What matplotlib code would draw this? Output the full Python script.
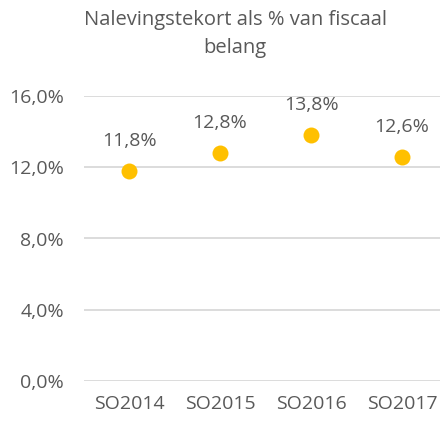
import matplotlib
matplotlib.use("Agg")
import matplotlib.pyplot as plt

categories = ["SO2014", "SO2015", "SO2016", "SO2017"]
values = [11.8, 12.8, 13.8, 12.6]
yticks = [0, 4, 8, 12, 16]

plt.rcParams['font.family'] = ['Open Sans', 'DejaVu Sans']
text_col = "#595959"
grid_col = "#d9d9d9"
dot_col = "#FFC000"

fig = plt.figure(figsize=(4.40, 4.23), dpi=100)
ax = fig.add_axes([83.5 / 440, 42 / 423, 364 / 440, 285 / 423])

x = list(range(len(categories)))
ax.plot(x, values, linestyle="none", marker="o", markersize=11.5,
        color=dot_col, markeredgewidth=0, zorder=3)

for xi, v in zip(x, values):
    ax.annotate(f"{v:.1f}%".replace(".", ","), (xi, v), xytext=(0, 15),
                textcoords="offset points", ha="center", va="bottom",
                fontsize=14, color=text_col)

ax.set_xlim(-0.5, 3.5)
ax.set_ylim(0, 16)
ax.set_yticks(yticks)
ax.set_yticklabels([f"{t:.1f}%".replace(".", ",") for t in yticks],
                   fontsize=14, color=text_col)
ax.set_xticks(x)
ax.set_xticklabels(categories, fontsize=14, color=text_col)
ax.tick_params(length=0)
ax.tick_params(axis="y", pad=14)
ax.tick_params(axis="x", pad=10)
ax.grid(axis="y", color=grid_col, linewidth=1.3)
ax.set_axisbelow(True)
for s in ax.spines.values():
    s.set_visible(False)

fig.text(235 / 440, 1 - 34 / 423, "Nalevingstekort als % van fiscaal\nbelang",
         ha="center", va="center", fontsize=14.5, color=text_col,
         linespacing=1.55)

fig.savefig("out.png", dpi=100)
